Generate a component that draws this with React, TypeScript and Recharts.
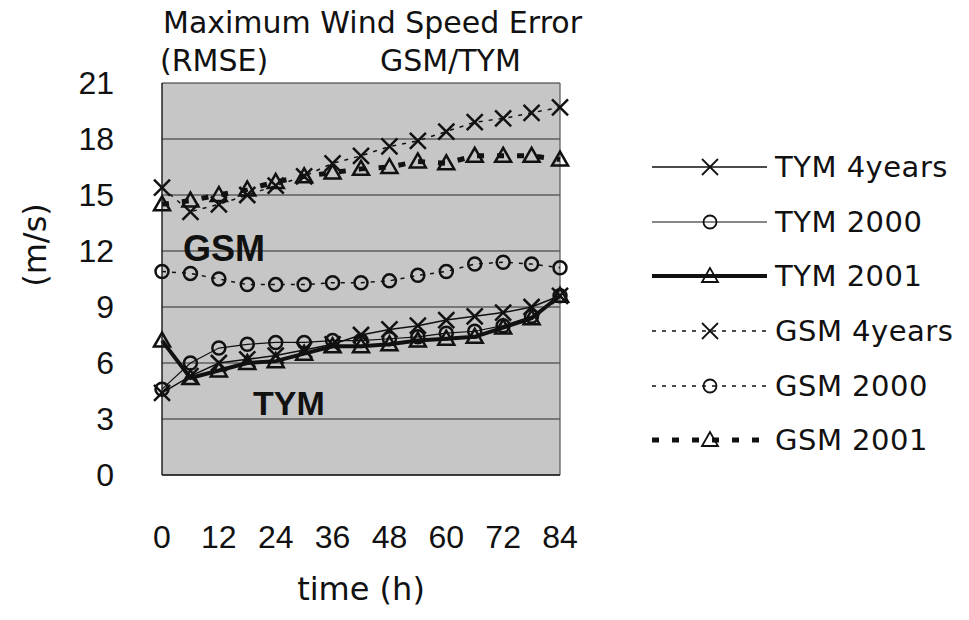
import {
  LineChart,
  Line,
  XAxis,
  YAxis,
  CartesianGrid,
  Legend,
  ReferenceLine,
} from "recharts";

const hours = [0, 6, 12, 18, 24, 30, 36, 42, 48, 54, 60, 66, 72, 78, 84];
const hourTicks = [0, 12, 24, 36, 48, 60, 72, 84];
const speedTicks = [0, 3, 6, 9, 12, 15, 18, 21];

const tym4years = [4.4, 5.3, 6.0, 6.2, 6.4, 6.7, 7.0, 7.5, 7.8, 8.0, 8.3, 8.5, 8.7, 9.0, 9.6];
const tym2000 = [4.6, 6.0, 6.8, 7.0, 7.1, 7.1, 7.2, 7.2, 7.3, 7.4, 7.6, 7.7, 8.0, 8.5, 9.6];
const tym2001 = [7.2, 5.2, 5.6, 6.0, 6.1, 6.5, 6.9, 6.9, 7.0, 7.2, 7.3, 7.4, 7.9, 8.4, 9.6];
const gsm4years = [15.4, 14.1, 14.5, 15.0, 15.5, 16.0, 16.7, 17.1, 17.6, 17.9, 18.4, 18.9, 19.1, 19.4, 19.7];
const gsm2000 = [10.9, 10.8, 10.5, 10.2, 10.2, 10.2, 10.3, 10.3, 10.4, 10.7, 10.9, 11.3, 11.4, 11.3, 11.1];
const gsm2001 = [14.5, 14.7, 15.0, 15.3, 15.7, 16.0, 16.2, 16.4, 16.5, 16.8, 16.7, 17.1, 17.1, 17.1, 16.9];

const data = hours.map((h, i) => ({
  h,
  tym4years: tym4years[i],
  tym2000: tym2000[i],
  tym2001: tym2001[i],
  gsm4years: gsm4years[i],
  gsm2000: gsm2000[i],
  gsm2001: gsm2001[i],
}));

type Kind = "cross" | "circle" | "triangle";

const series: { key: string; name: string; kind: Kind; width: number; dash?: string }[] = [
  { key: "tym4years", name: "TYM 4years", kind: "cross", width: 1.5 },
  { key: "tym2000", name: "TYM 2000", kind: "circle", width: 1.2 },
  { key: "tym2001", name: "TYM 2001", kind: "triangle", width: 4 },
  { key: "gsm4years", name: "GSM 4years", kind: "cross", width: 1.5, dash: "4 6" },
  { key: "gsm2000", name: "GSM 2000", kind: "circle", width: 1.5, dash: "4 6" },
  { key: "gsm2001", name: "GSM 2001", kind: "triangle", width: 5, dash: "7 13" },
];

const ink = "#111";

function Marker({ kind, cx, cy, sw = 2.5 }: { kind: Kind; cx: number; cy: number; sw?: number }) {
  if (cx == null || cy == null) return null;
  if (kind === "cross") {
    const s = 8;
    return (
      <g stroke={ink} strokeWidth={sw}>
        <line x1={cx - s} y1={cy - s} x2={cx + s} y2={cy + s} />
        <line x1={cx - s} y1={cy + s} x2={cx + s} y2={cy - s} />
      </g>
    );
  }
  if (kind === "circle") {
    return <circle cx={cx} cy={cy} r={6.5} fill="none" stroke={ink} strokeWidth={sw} />;
  }
  return (
    <polygon
      points={`${cx},${cy - 8} ${cx - 8},${cy + 6} ${cx + 8},${cy + 6}`}
      fill="none"
      stroke={ink}
      strokeWidth={sw}
      strokeLinejoin="miter"
    />
  );
}

// legend keeps the series order (recharts would sort by name)
const renderLegend = (props: any) => {
  const keys = (props.payload || []).map((e: any) => e.dataKey);
  return (
    <div>
      {series
        .filter((s) => keys.includes(s.key))
        .map((s) => (
          <div
            key={s.key}
            style={{ display: "flex", alignItems: "center", height: 54.6 }}
          >
            <svg width={125} height={30}>
              <line
                x1={7}
                y1={15}
                x2={122}
                y2={15}
                stroke={ink}
                strokeWidth={s.width}
                strokeDasharray={s.dash}
              />
              <Marker kind={s.kind} cx={65} cy={15} sw={1.8} />
            </svg>
            <span
              style={{
                marginLeft: 5,
                fontSize: 29,
                fontFamily: "DejaVu Sans",
                color: ink,
                letterSpacing: 0.5,
                whiteSpace: "nowrap",
              }}
            >
              {s.name}
            </span>
          </div>
        ))}
    </div>
  );
};

const textStyle = {
  position: "absolute" as const,
  fontFamily: "DejaVu Sans",
  color: ink,
  lineHeight: 1,
  whiteSpace: "nowrap" as const,
};

export default function App() {
  return (
    <div
      style={{
        position: "absolute",
        left: 0,
        top: 0,
        width: 969,
        height: 620,
        background: "#fff",
      }}
    >
      <LineChart
        width={969}
        height={620}
        data={data}
        margin={{ top: 83, right: 409, bottom: 0, left: 0 }}
      >
        <CartesianGrid
          horizontal
          vertical={false}
          fill="#c6c6c6"
          stroke="#2a2a2a"
          strokeWidth={1.2}
        />
        <XAxis
          dataKey="h"
          type="number"
          domain={[0, 84]}
          ticks={hourTicks}
          height={145}
          tickLine={false}
          tickSize={0}
          tickMargin={50}
          axisLine={{ stroke: "#222", strokeWidth: 1.5 }}
          tick={{ fontSize: 32, fill: ink, fontFamily: "Liberation Sans" }}
          label={{
            value: "time (h)",
            position: "insideBottom",
            offset: 20,
            fontSize: 32,
            fill: ink,
            fontFamily: "DejaVu Sans",
          }}
        />
        <YAxis
          type="number"
          domain={[0, 21]}
          ticks={speedTicks}
          width={162}
          tickLine={false}
          tickSize={0}
          tickMargin={48}
          axisLine={{ stroke: "#222", strokeWidth: 1.5 }}
          tick={{ fontSize: 32, fill: ink, fontFamily: "Liberation Sans" }}
        />
        <ReferenceLine x={84} stroke="#555" strokeWidth={1.2} />
        <Legend
          layout="vertical"
          align="center"
          verticalAlign="middle"
          content={renderLegend}
          wrapperStyle={{ left: 645, top: 140, width: 330 }}
        />
        {series.map((s) => (
          <Line
            key={s.key}
            dataKey={s.key}
            name={s.name}
            type="linear"
            stroke={ink}
            strokeWidth={s.width}
            strokeDasharray={s.dash}
            isAnimationActive={false}
            activeDot={false}
            dot={(p: any) => (
              <Marker key={`${s.key}-${p.index}`} kind={s.kind} cx={p.cx} cy={p.cy} />
            )}
          />
        ))}
      </LineChart>

      <div style={{ ...textStyle, left: 163, top: 8, fontSize: 30 }}>
        Maximum Wind Speed Error
      </div>
      <div style={{ ...textStyle, left: 160, top: 46, fontSize: 30 }}>(RMSE)</div>
      <div style={{ ...textStyle, left: 380, top: 46, fontSize: 30 }}>GSM/TYM</div>
      <div
        style={{
          ...textStyle,
          left: 35,
          top: 245,
          fontSize: 32,
          transform: "translate(-50%, -50%) rotate(-90deg)",
        }}
      >
        (m/s)
      </div>
      <div
        style={{
          ...textStyle,
          left: 183,
          top: 231,
          fontSize: 36,
          fontWeight: "bold",
          fontFamily: "Liberation Sans",
        }}
      >
        GSM
      </div>
      <div
        style={{
          ...textStyle,
          left: 253,
          top: 386,
          fontSize: 34,
          fontWeight: "bold",
          fontFamily: "Liberation Sans",
        }}
      >
        TYM
      </div>
    </div>
  );
}
